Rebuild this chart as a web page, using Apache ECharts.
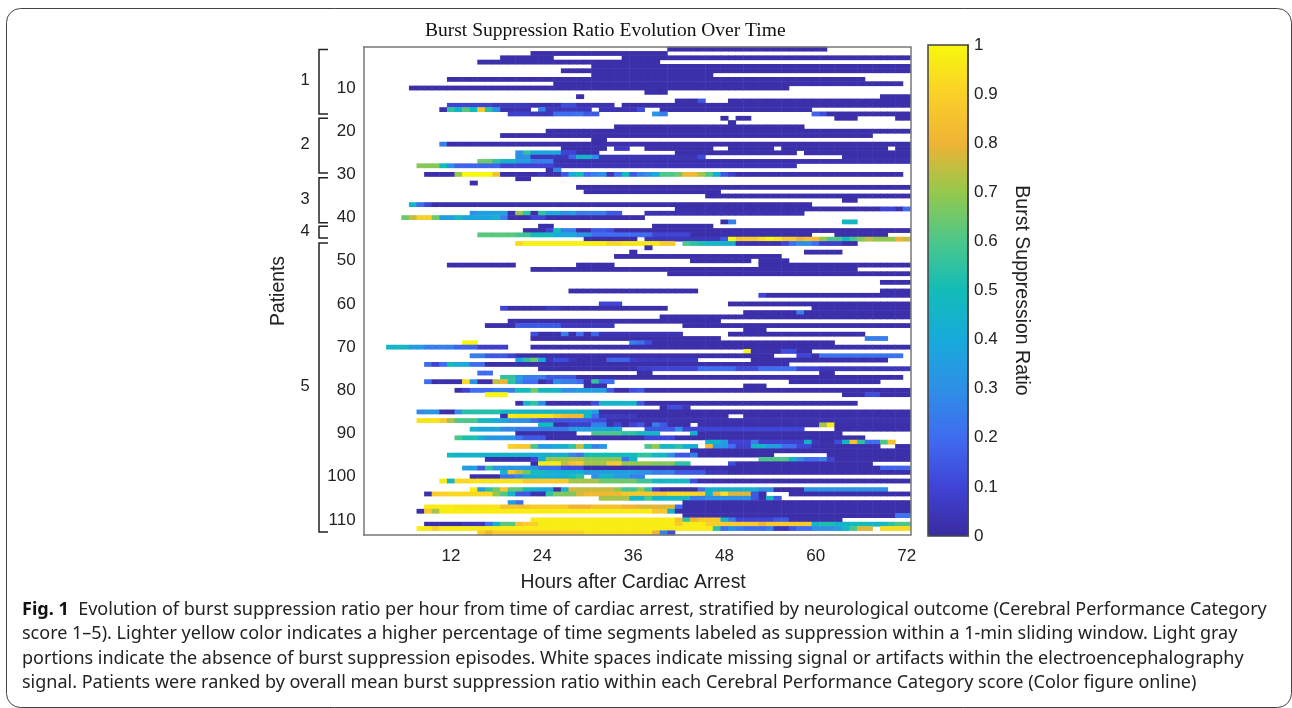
<!DOCTYPE html>
<html>
<head>
<meta charset="utf-8">
<style>html,body{margin:0;padding:0;background:#fff}#c{width:1292px;height:708px}</style>
<script src="https://cdn.jsdelivr.net/npm/echarts@6/dist/echarts.min.js"></script>
</head>
<body>
<div id="c"></div>
<script>
// Each patient row is a list of runs [firstHour, lastHour, ratio]; a run without ratio is near-zero suppression.
const baseRatio = 0.02;
const hourTicks = [12, 24, 36, 48, 60, 72];
const patientTicks = [10, 20, 30, 40, 50, 60, 70, 80, 90, 100, 110];
const parula = ['#3b2a9f','#3f44d6','#3f6cf0','#2e8fe6','#18aadb','#12bcb8','#4cc78a','#94c84c','#efb335','#fad028','#f8f80c'];
const outcomeBrackets = [['1',1.09,16],['2',17,29.7],['3',30.8,41.2],['4',42,44.7],['5',45.9,112.8]];
const captionLines = [
 'score 1–5). Lighter yellow color indicates a higher percentage of time segments labeled as suppression within a 1-min sliding window. Light gray',
 'portions indicate the absence of burst suppression episodes. White spaces indicate missing signal or artifacts within the electroencephalography',
 'signal. Patients were ranked by overall mean burst suppression ratio within each Cerebral Performance Category score (Color figure online)'
];
const outcome1Rows = [
[[41,61]],
[[23,40]],
[[19,25],[35,72]],
[[16,39]],
[[31,72]],
[[27,72]],
[[31,46]],
[[12,66]],
[[26,71]],
[[7,56]],
[[38,40]],
[[29,29],[69,72]],
[[42,44],[45,45,.15],[49,72]],
[[12,17,.1],[18,22,.06],[23,26,.03],[27,28,.12],[29,33,.04],[35,72]],
[[11,11],[12,12,.55],[13,13,.45],[14,14,.62],[15,15,.5],[16,16,.88],[17,17,.55],[18,18,.3],[19,22,.03],[24,24,.25],[25,30,.05],[32,36,.04],[37,37,.12],[40,59]],
[[20,22,.08],[23,25,.05],[26,28,.2],[29,29,.22],[30,31,.15],[39,39,.32],[40,40,.25],[60,60,.18],[61,61,.12],[62,72]]
];
const outcome2Rows = [
[[48,48],[50,51],[63,65],[71,72]],
[[49,49]],
[[34,58]],
[[25,72]],
[[19,67]],
[[31,32]],
[[11,11,.25],[12,72]],
[[27,32],[34,35,.06],[38,46],[49,54],[56,69],[71,72]],
[[21,21,.3],[22,22,.55],[23,26,.38],[27,28,.1],[29,31],[42,57],[59,72]],
[[21,22,.3],[23,27,.05],[28,28,.18],[29,30,.45],[31,31,.3],[32,44,.04],[45,45,.12],[64,72]],
[[16,17,.65],[18,18,.55],[19,20,.45],[21,22,.35],[23,25,.25],[26,72,.03]],
[[8,10,.68],[11,11,.5],[12,12,.3],[13,18,.18],[19,25,.1],[26,57,.04]],
[[25,25],[26,26,.28]],
[[9,12],[13,13,.7],[14,17,1],[18,18,.85],[19,23],[24,24,.05],[25,26],[27,27,.15],[28,28,.4],[29,29,.5],[30,30,.2],[31,31,.25],[32,32,.3],[33,33,.05],[34,34,.2],[35,35,.5],[36,36,.15],[37,37,.25],[38,38,.3],[39,39,.4],[40,41,.6],[42,42,.65],[43,44,.82],[45,45,.72],[46,46,.6],[47,47,.42],[48,48,.15],[49,49,.08],[50,71]]
];
const outcome3Rows = [
[[21,22]],
[[15,15]],
[[29,72]],
[[30,47]],
[[46,72]],
[[64,65]],
[[7,7,.45],[8,8,.2],[9,9,.1],[10,59]],
[[42,68],[69,70,.1],[71,71,.03],[72,72,.2]],
[[15,15,.3],[16,19,.36],[20,20],[21,21,.7],[22,22,.55],[23,23],[24,24,.55],[25,26,.4],[27,27,.3],[28,28,.35],[29,32,.25],[33,34,.15],[38,58,.03]],
[[6,6,.65],[7,7,.75],[8,9,.9],[10,10,.65],[11,12,.35],[13,13,.5],[14,17,.38],[18,18,.45],[19,19,.25],[20,22],[23,24,.1],[25,37]],
[[48,48],[49,49,.25],[64,65,.47]]
];
const outcome4Rows = [
[[24,25],[39,46]],
[[22,24],[25,25,.1],[26,26,.5],[27,28,.25],[29,30],[31,32,.15],[33,33,.12],[34,72]],
[[16,20,.62],[21,22,.58],[23,25,.5],[26,28,.4],[29,30,.32],[31,38,.2],[39,43,.1],[44,59],[63,69]],
[[30,36],[38,47,.05],[48,48,.15],[49,49,1],[50,52,.89],[53,53,.95],[54,54,1],[55,55,.97],[56,57,.9],[58,58,.8],[59,59,.85],[60,60,.83],[61,61,.7],[62,63,.6],[64,64,.5],[65,65,.6],[66,66,.68],[67,67,.75],[68,70,.7],[71,71,.8],[72,72,.75]]
];
const outcome5Rows = [
[[21,21,.92],[22,32,.98],[33,34,.92],[35,39,.96],[40,41,.88],[43,43,.6],[44,44,.55],[45,45,.52],[46,47,.47],[48,49,.43],[50,55,.03],[56,56,.1],[57,57,.2],[58,59,.3],[60,60,.2],[61,63,.08],[64,65]],
[[38,38]],
[[36,36],[59,63]],
[[34,55]],
[[44,51],[53,56]],
[[12,20],[29,33],[53,72]],
[[23,65]],
[[41,72]],
[],
[[69,72]],
[],
[[28,44],[69,72]],
[[53,53,.1],[54,72]],
[],
[[32,34,.1],[49,72]],
[[19,19,.1],[20,24],[25,26,.06],[27,40],[60,72]],
[[51,57],[58,58,.25],[59,72]],
[[40,72]],
[[20,47]],
[[17,20],[21,26,.15],[27,33,.05],[43,72]],
[[51,53]],
[[23,23,.12],[24,26],[27,27,.25],[28,28],[29,29,.2],[30,30],[31,31,.18],[32,42,.04],[49,66]],
[[23,47],[67,69,.25]],
[[14,15,1],[36,36,.25],[37,37,.2],[38,38,.12],[39,62]],
[[4,6,.47],[7,8,.35],[9,12,.25],[13,15,.18],[16,19,.08],[23,72]],
[[51,51,1],[52,55],[56,57,.12],[58,59]],
[[15,16,.25],[17,19,.15],[20,20,.1],[21,54],[58,59,.1],[60,60],[61,71,.22]],
[[21,21,.38],[22,22,.55],[23,23,.65],[24,24,.4],[25,25,.05],[26,27,.12],[28,28,.05],[29,32],[33,35,.18],[36,36,.08],[37,44,.06],[52,69]],
[[9,9,.2],[10,10,.1],[11,11,.2],[12,12,.5],[13,14,.4],[15,16,.2],[17,56]],
[[24,36],[37,38,.08],[39,44,.1],[45,49,.2],[50,52,.12],[53,57,.2],[58,60,.1],[61,72,.05]],
[[16,17,.2],[37,38],[61,62]],
[[19,20,.55],[21,21,.35],[22,24,.25],[25,28,.15],[29,71]],
[[9,9,.2],[10,13],[14,14,.93],[15,15,.3],[16,17],[18,18,.75],[19,19,.8],[20,20,.55],[21,21,.3],[22,23,.2],[24,24],[25,25,.08],[26,26,.3],[27,28,.25],[29,29,.2],[30,30],[31,31,.55],[32,33,.2],[57,68]],
[[30,32],[51,53]],
[[13,13],[14,14,.08],[15,17,.2],[18,20,.25],[21,22,.5],[23,23,.65],[24,25,.48],[26,26,.45],[27,28,.3],[29,32,.35],[33,33,.15],[34,35],[36,36,.12],[37,37,.15],[38,72]],
[[17,19,1],[64,66],[67,68,.12],[69,72]],
[],
[[21,21],[22,22,.45],[23,23,.55],[24,24,.3],[25,30],[31,31,.12],[32,36,.45],[37,37,.15],[38,65]],
[[40,40],[41,42,.12],[43,43,.05]],
[[8,8,.28],[9,10,.32],[11,12],[13,13,.3],[14,18,.53],[19,30,.46],[31,31,.35],[32,72]],
[[19,19],[20,20,.97],[21,25,.95],[26,26,.88],[27,29,.83],[30,30,.45],[31,31,.2],[32,36,.06],[37,48],[51,72]],
[[8,10,.95],[11,11,.88],[12,12,.73],[13,15,.6],[16,17,.48],[18,19,.4],[20,22,.3],[23,23,.2],[24,30,.15],[31,32,.12],[33,72,.03]],
[[24,25,.5],[26,26],[27,27,.03],[28,30,.08],[31,32,.25],[33,33,.03],[34,34,.1],[35,35],[36,36,.1],[37,37,.15],[38,38],[39,39,.25],[40,40,.15],[41,43],[45,60],[61,61,.72],[62,62,.97],[63,72]],
[[15,15,.45],[16,18,.38],[19,20,.28],[21,27,.24],[28,30,.35],[31,34,.38],[38,41,.15],[42,42,.3],[43,58,.1],[63,72]],
[[21,28],[31,34,.6],[35,36,.55],[37,39,.47],[44,44,.45],[45,63]],
[[13,13,.6],[14,15,.52],[16,16,.42],[17,20,.33],[21,21,.22],[22,24,.15],[25,37],[38,41,.1],[42,66]],
[[46,47,.45],[48,48,.35],[49,51,.1],[52,52,.25],[53,58,.08],[59,59,.45],[60,60,.05],[61,62],[63,63,.12],[64,64,.48],[65,65,.85],[66,66,.55],[67,68,.2],[69,69,.6],[70,70,.85]],
[[20,20,.9],[21,22,.87],[23,23,.6],[24,25,.35],[26,27,.42],[28,28,.55],[29,29,.75],[30,30,.47],[31,31,.25],[32,32,.33],[38,38,.6],[39,39,.7],[40,41,.47],[42,42,.55],[43,44,.42],[46,46,.8],[47,48,.33],[49,49,.2],[50,51,.08],[52,53,.45],[54,55,.35],[56,57,.2],[58,59,.1],[60,68],[71,72]],
[[44,72]],
[[12,12,.5],[13,21,.45],[22,27,.42],[28,28,.28],[29,29,.22],[30,36,.5],[37,38,.55],[39,40,.47],[41,41,.3],[42,43,.15],[44,44,.25],[45,54],[62,72]],
[[17,22],[23,23,.1],[24,24,.43],[25,27,.7],[28,29,.73],[30,34,.68],[35,35,.22],[36,36,.45],[53,56,.6],[57,57,.45],[58,58,.3],[59,60,.2],[61,61,.25],[62,62,.1],[63,72]],
[[23,23],[24,26,.97],[27,27,.75],[28,28,.85],[29,29,.88],[30,32,.72],[33,33,.87],[34,34,.88],[35,38,.7],[39,41,.68],[42,43,.55],[49,49,.12],[50,67]],
[[14,15,.35],[16,16,.15],[17,17,.55],[18,23,.33],[24,26,.2],[27,29,.12],[30,68],[69,72,.18]],
[[19,19,.45],[20,20,.87],[21,21,.75],[22,22,.65],[23,24,.5],[25,29,.42],[30,31,.33],[32,36,.35],[37,38,.3],[39,41,.25],[42,45,.15],[46,48,.05],[49,72]],
[[15,18],[19,20,.22],[21,21,.28],[22,27,.42],[28,28,.5],[29,29,.55],[31,31,.3],[32,33,.45],[34,35,.35],[36,37,.25]],
[[11,11,.97],[12,12,.47],[13,14,.92],[15,21,.95],[22,27,.88],[28,31,.72],[32,36,.65],[37,38,.57],[39,43,.47],[44,44,.12],[45,72]],
[],
[[15,15,.97],[16,16,.35],[17,17,.55],[18,18,.65],[19,19,.87],[20,21,.62],[22,22,.5],[23,23,.45],[24,25,.38],[26,26],[27,27,.45],[28,28,.78],[29,29,.75],[30,33,.76],[34,34,.7],[35,36,.58],[37,37,.7],[38,38,.55],[39,39,.1],[40,44],[45,45,.2],[46,52,.42],[53,54,.3],[55,58],[59,69,.3]],
[[9,9],[10,10,.88],[11,11,.9],[12,17,.92],[18,18,.7],[19,19,.6],[20,20,.45],[21,22,.15],[23,24,.03],[25,25,.55],[26,28,.67],[29,29,.78],[30,34,.82],[35,40,.87],[41,44,.92],[45,45,.9],[46,46,.45],[47,47,.8],[48,48,.95],[49,51,.78],[52,52,.15],[53,53],[57,72]],
[[32,35,.72],[36,37,.47],[38,38,.6],[39,43,.47],[44,45,.25],[46,51,.3],[52,52,.15],[53,53,.03],[54,54,.47],[55,55,.15]],
[[20,20,.35],[21,21,.2],[43,72]],
[[9,12,.97],[13,18,.95],[19,22,.85],[23,27,.88],[28,30,.8],[31,34,.85],[35,36,.8],[37,41,.78],[42,42,.2],[43,72]],
[[8,8],[9,9,.87],[10,10,.72],[11,38,.97],[39,40,.87],[41,41,.45],[42,72]],
[[43,70],[71,72,.22]],
[[23,41,.97],[42,42,.85],[43,43,.55],[44,44,.8],[45,47,.87],[48,48,.45],[49,49,.25],[50,54,.1],[55,56,.15],[57,63]],
[[9,13],[14,16,.05],[17,17,.2],[18,18,.45],[19,20,.62],[21,21,.85],[22,23,.9],[24,41,.97],[42,42,.88],[43,45,.97],[46,47,.9],[48,52,.88],[53,53,.8],[54,55,.87],[56,59,.88],[60,60,.45],[61,62,.52],[63,64,.45],[65,66,.5],[67,69,.47],[70,70,.55],[71,72,.6]],
[[8,9,.97],[10,10,.9],[11,46,.97],[47,47,.55],[48,48,.2],[49,49,.3],[50,50,.25],[51,53,.2],[54,54,.25],[55,56,.05],[57,57,.15],[58,59,.2],[60,62,.3],[63,63,.35],[64,64,.47],[65,65,.6],[66,67,.78],[69,72,.93]],
[[16,16,.88],[17,17,.8],[18,26,.88],[27,29,.9],[30,38,.95],[39,39,.8],[40,40,.25],[41,41,.12]]
];

const allRows = [].concat(outcome1Rows, outcome2Rows, outcome3Rows, outcome4Rows, outcome5Rows);
const hours = Array.from({length:72}, (_, i) => String(i + 1));
const patients = allRows.map((_, i) => String(i + 1));
const cells = [];
allRows.forEach((runs, r) => runs.forEach(run => {
  for (let h = run[0]; h <= run[1]; h++) cells.push([h - 1, r, run.length > 2 ? run[2] : baseRatio]);
}));

const AXIS = '#777';
const INK = '#222';
const SANS = '"Liberation Sans", Arial, sans-serif';
const hourShown = (i, v) => hourTicks.includes(+v);
const patientShown = (i, v) => patientTicks.includes(+v);
const axisBase = {lineStyle:{color:AXIS,width:1.5}};

const chart = echarts.init(document.getElementById('c'), null, {renderer:'canvas'});
chart.setOption({
  animation:false,
  backgroundColor:'#fff',
  title:{text:'Burst Suppression Ratio Evolution Over Time',left:425,top:21,padding:0,
    textStyle:{fontFamily:'"Liberation Serif", serif',fontWeight:'normal',fontSize:19.5,color:'#111'}},
  grid:[
    {left:363.6,top:47,width:547,height:488},
    {left:928,top:45,width:40,height:491}
  ],
  xAxis:[
    {type:'category',gridIndex:0,data:hours,position:'bottom',z:5,
     name:'Hours after Cardiac Arrest',nameLocation:'middle',nameGap:38,
     nameTextStyle:{fontFamily:SANS,fontSize:19.4,color:INK,padding:[0,8,0,0]},
     axisLine:axisBase,axisTick:{inside:true,length:5,alignWithLabel:true,interval:hourShown,lineStyle:{color:'#555'}},
     axisLabel:{interval:hourShown,fontFamily:SANS,fontSize:17,color:INK,margin:13},splitLine:{show:false}},
    {type:'category',gridIndex:0,data:hours,position:'top',z:5,
     axisLine:axisBase,axisTick:{inside:true,length:5,alignWithLabel:true,interval:hourShown,lineStyle:{color:'#555'}},
     axisLabel:{show:false},splitLine:{show:false}},
    {type:'category',gridIndex:1,data:[''],show:false}
  ],
  yAxis:[
    {type:'category',gridIndex:0,data:patients,inverse:true,position:'left',z:5,
     name:'Patients',nameLocation:'middle',nameGap:75,
     nameTextStyle:{fontFamily:SANS,fontSize:19.4,color:INK},
     axisLine:axisBase,axisTick:{inside:true,length:5,alignWithLabel:true,interval:patientShown,lineStyle:{color:'#555'}},
     axisLabel:{interval:patientShown,fontFamily:SANS,fontSize:17,color:INK,margin:8,padding:[8,0,0,0]},splitLine:{show:false}},
    {type:'category',gridIndex:0,data:patients,inverse:true,position:'right',z:5,
     axisLine:axisBase,axisTick:{inside:true,length:5,alignWithLabel:true,interval:patientShown,lineStyle:{color:'#555'}},
     axisLabel:{show:false},splitLine:{show:false}},
    {type:'value',gridIndex:1,min:0,max:1,interval:0.1,position:'right',z:10,
     name:'Burst Suppression Ratio',nameLocation:'middle',nameGap:43,nameRotate:-90,
     nameTextStyle:{fontFamily:SANS,fontSize:19.5,color:INK},
     axisLine:{show:true,lineStyle:{color:'#444',width:1.5}},
     axisTick:{inside:true,length:5,lineStyle:{color:'#333'}},
     axisLabel:{fontFamily:SANS,fontSize:17,color:INK,margin:6,padding:[8,0,0,0]},splitLine:{show:false}}
  ],
  visualMap:{type:'continuous',min:0,max:1,seriesIndex:0,left:928,top:45,itemWidth:40,itemHeight:491,padding:0,
    calculable:false,realtime:false,text:null,showLabel:false,
    inRange:{color:parula},textStyle:{color:'transparent',fontSize:1},hoverLink:false,z:1},
  series:[
    {type:'heatmap',xAxisIndex:0,yAxisIndex:0,data:cells,progressive:0,emphasis:{disabled:true},itemStyle:{borderWidth:0}},
    {type:'scatter',xAxisIndex:2,yAxisIndex:2,data:[],silent:true}
  ]
});

const yAt = v => {
  const a = chart.convertToPixel({yAxisIndex:0}, '1');
  const b = chart.convertToPixel({yAxisIndex:0}, '113');
  return a + (v - 1) * (b - a) / 112;
};
const graphics = [
  {type:'rect',z:0,shape:{x:6.5,y:8.5,width:1285,height:699,r:14},style:{fill:'none',stroke:'#444',lineWidth:1}},
  {type:'rect',z:100,shape:{x:928,y:45,width:40,height:491},style:{fill:'none',stroke:'#444',lineWidth:1.5}}
];
outcomeBrackets.forEach(([label, from, to]) => {
  const y0 = yAt(from), y1 = yAt(to);
  graphics.push({type:'polyline',z:50,shape:{points:[[328,y0],[319,y0],[319,y1],[328,y1]]},style:{fill:'none',stroke:'#222',lineWidth:1.5}});
  graphics.push({type:'text',z:50,x:305,y:(y0 + y1) / 2 - 1,style:{text:label,fontFamily:SANS,fontSize:16.5,fill:INK,align:'center',verticalAlign:'middle'}});
});
graphics.push({type:'text',z:50,x:22,y:601,style:{
  text:'{b|Fig. 1}  Evolution of burst suppression ratio per hour from time of cardiac arrest, stratified by neurological outcome (Cerebral Performance Category',
  fontFamily:'"Noto Sans"',fontSize:18.05,fill:'#222',verticalAlign:'top',
  rich:{b:{fontFamily:'"Noto Sans"',fontWeight:'bold',fontSize:18.05,fill:'#111'}}}});
captionLines.forEach((line, i) => graphics.push({type:'text',z:50,x:22,y:625 + i * 24.4,style:{
  text:line,fontFamily:'"Noto Sans"',fontSize:18,fill:'#222',verticalAlign:'top'}}));
chart.setOption({graphic:graphics});
</script>
</body>
</html>
